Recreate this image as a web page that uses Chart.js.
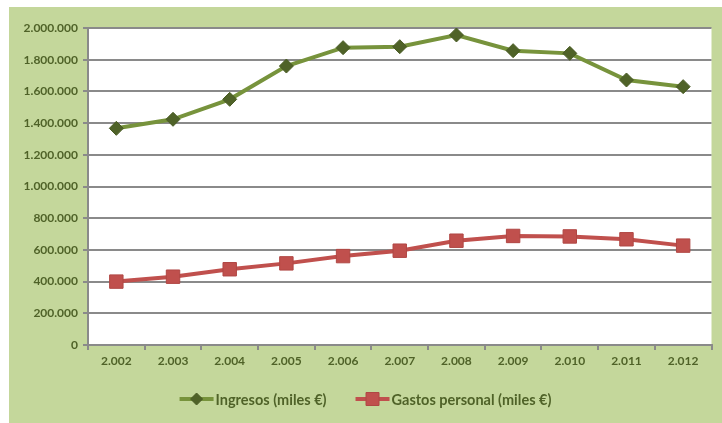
<!DOCTYPE html>
<html>
<head>
<meta charset="utf-8">
<script src="https://cdn.jsdelivr.net/npm/chart.js@4.4.1/dist/chart.umd.min.js"></script>
<style>
  html, body { margin: 0; padding: 0; background: #ffffff; }
  #wrap { position: absolute; left: 9px; top: 7px; width: 713px; height: 416px; background: #c4d79b; }
</style>
</head>
<body>
<div id="wrap"><canvas id="myChart" width="713" height="416"></canvas></div>
<script>
// chart values
const years = ['2.002', '2.003', '2.004', '2.005', '2.006', '2.007', '2.008', '2.009', '2.010', '2.011', '2.012'];
const ingresos = [1367000, 1424000, 1550000, 1760000, 1876000, 1882000, 1956000, 1857000, 1840000, 1672000, 1630000];
const gastos = [400000, 431000, 478000, 515000, 561000, 595000, 658000, 688000, 685000, 667000, 627000];
const seriesNames = ['Ingresos (miles €)', 'Gastos personal (miles €)'];
const yMin = 0, yMax = 2000000, yStep = 200000;

const textColor = '#4f6228';
const gridColor = '#8a8a8a';
const font = { family: 'Lato, "Open Sans", sans-serif', size: 12, weight: 'bold' };

function dots(v) {
  return String(v).replace(/\B(?=(\d{3})+(?!\d))/g, '.');
}

// legend with line + marker, like the spreadsheet one
const lineLegend = {
  id: 'lineLegend',
  afterDraw(chart) {
    const ctx = chart.ctx;
    const sets = chart.data.datasets;
    ctx.save();
    ctx.font = 'bold 14.5px ' + font.family;
    const lineW = 34, gap = 2, itemGap = 29;
    const widths = sets.map(d => lineW + gap + ctx.measureText(d.label).width);
    const total = widths.reduce((a, b) => a + b, 0) + itemGap * (sets.length - 1);
    let x = (chart.width - total) / 2;
    const y = 392;
    sets.forEach((d, i) => {
      ctx.strokeStyle = d.borderColor;
      ctx.lineWidth = d.borderWidth;
      ctx.beginPath();
      ctx.moveTo(x, y);
      ctx.lineTo(x + lineW, y);
      ctx.stroke();
      ctx.fillStyle = d.pointBackgroundColor;
      ctx.strokeStyle = d.pointBorderColor;
      ctx.lineWidth = 1;
      const cx = x + lineW / 2;
      ctx.beginPath();
      if (d.pointStyle === 'rectRot') {
        const r = 6;
        ctx.moveTo(cx - r, y); ctx.lineTo(cx, y - r); ctx.lineTo(cx + r, y); ctx.lineTo(cx, y + r);
      } else {
        const s = 6.5;
        ctx.rect(cx - s, y - s, s * 2, s * 2);
      }
      ctx.closePath();
      ctx.fill();
      ctx.stroke();
      ctx.fillStyle = textColor;
      ctx.textBaseline = 'middle';
      ctx.fillText(d.label, x + lineW + gap, y + 1);
      x += widths[i] + itemGap;
    });
    ctx.restore();
  }
};

const plotBg = {
  id: 'plotBg',
  beforeDraw(chart) {
    const a = chart.chartArea;
    chart.ctx.save();
    chart.ctx.fillStyle = '#ffffff';
    chart.ctx.fillRect(a.left, a.top, a.right - a.left, a.bottom - a.top);
    chart.ctx.restore();
  }
};

const config = {
  type: 'line',
  data: {
    labels: years,
    datasets: [{
      label: seriesNames[0],
      data: ingresos,
      borderColor: '#77933c',
      borderWidth: 4,
      pointStyle: 'rectRot',
      pointRadius: 7,
      pointBackgroundColor: '#4f6228',
      pointBorderColor: '#4a5c25',
      pointBorderWidth: 1,
      tension: 0,
    }, {
      label: seriesNames[1],
      data: gastos,
      borderColor: '#c0504d',
      borderWidth: 4,
      pointStyle: 'rect',
      pointRadius: 9.5,
      pointBackgroundColor: '#c0504d',
      pointBorderColor: '#b04744',
      pointBorderWidth: 1,
      tension: 0,
    }],
  },
  options: {
    responsive: false,
    animation: false,
    layout: { padding: { top: 21, right: 6, left: 0, bottom: 0 } },
    plugins: { legend: { display: false }, tooltip: { enabled: false } },
    scales: {
      x: {
        offset: true,
        grid: { offset: true, drawOnChartArea: false, drawTicks: true, tickLength: 5, color: gridColor, lineWidth: 2 },
        border: { color: gridColor, width: 2 },
        ticks: { color: textColor, font: font, padding: 4, maxRotation: 0 },
        afterFit(scale) { scale.height = 78; },
      },
      y: {
        min: yMin,
        max: yMax,
        grid: { color: gridColor, lineWidth: 2, tickLength: 5 },
        border: { color: gridColor, width: 2 },
        ticks: { stepSize: yStep, color: textColor, font: font, padding: 5, callback: v => dots(v) },
        afterFit(scale) { scale.width = 79; },
      },
    },
  },
  plugins: [plotBg, lineLegend],
};

new Chart(document.getElementById('myChart'), config);
</script>
</body>
</html>
